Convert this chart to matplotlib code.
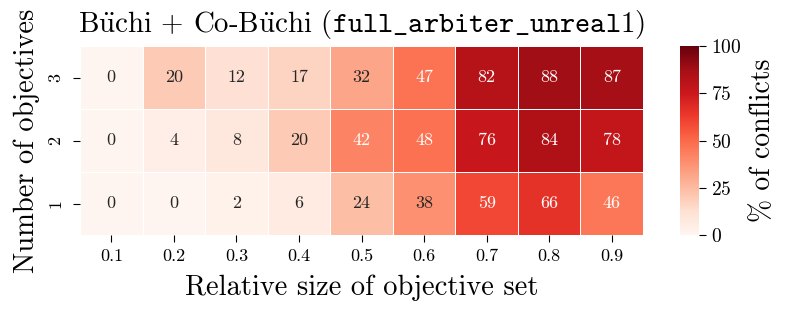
import numpy as np
import pandas as pd
import matplotlib
matplotlib.use("Agg")
import matplotlib.pyplot as plt
import seaborn as sns

plt.rcParams['font.family'] = ['cmr10', 'DejaVu Serif']
plt.rcParams['mathtext.fontset'] = 'cm'
plt.rcParams['axes.formatter.use_mathtext'] = True

sizes = ['0.1', '0.2', '0.3', '0.4', '0.5', '0.6', '0.7', '0.8', '0.9']
n_objectives = ['3', '2', '1']
row3 = [0, 20, 12, 17, 32, 47, 82, 88, 87]
row2 = [0, 4, 8, 20, 42, 48, 76, 84, 78]
row1 = [0, 0, 2, 6, 24, 38, 59, 66, 46]

df = pd.DataFrame([row3, row2, row1], index=n_objectives, columns=sizes)

fig = plt.figure(figsize=(7.93, 3.16), dpi=100)
ax = fig.add_axes([0.1009, 0.256, 0.71, 0.598])
cax = fig.add_axes([0.857, 0.256, 0.025, 0.598])

sns.heatmap(df, ax=ax, cbar_ax=cax, cmap='Reds', vmin=0, vmax=100,
            annot=True, fmt='d', linewidths=0.5, linecolor='white',
            annot_kws={'fontsize': 13})

ax.set_title(r'B$\ddot{\mathrm{u}}$chi + Co-B$\ddot{\mathrm{u}}$chi ($\mathtt{full\_arbiter\_unreal1}$)',
             fontsize=20.8, pad=10.5)
ax.set_xlabel('Relative size of objective set', fontsize=20.5, labelpad=7)
ax.set_ylabel('Number of objectives', fontsize=20.5, labelpad=6)
ax.tick_params(axis='x', labelsize=13, pad=5, length=5)
ax.tick_params(axis='y', labelsize=13, pad=7, length=5)
ax.set_yticklabels(n_objectives, rotation=90, va='center')

cax.tick_params(labelsize=14, length=5)
cax.set_yticks([0, 25, 50, 75, 100])
cax.set_ylabel('% of conflicts', fontsize=20, labelpad=6)
for s in cax.spines.values():
    s.set_visible(False)

fig.savefig('out.png', dpi=100)
